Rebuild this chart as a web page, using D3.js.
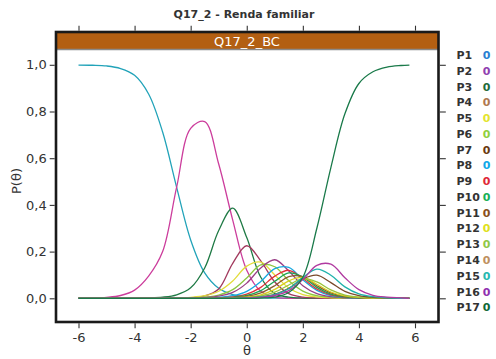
<!DOCTYPE html>
<html><head><meta charset="utf-8">
<script src="https://cdn.jsdelivr.net/npm/d3@7"></script>
<style>body{margin:0;background:#fff}svg{display:block}</style>
</head><body>
<script>
const theta = [-6,-5.5,-5,-4.5,-4,-3.5,-3,-2.5,-2,-1.5,-1,-0.5,0,0.5,1,1.5,2,2.5,3,3.5,4,4.5,5,5.5,5.8];
const P1  = [0.999,0.998,0.995,0.984,0.955,0.875,0.712,0.475,0.250,0.109,0.043,0.016,0.006,0.002,0.001,0,0,0,0,0,0,0,0,0,0];
const P2  = [0,0.001,0.004,0.012,0.035,0.095,0.200,0.476,0.728,0.757,0.575,0.335,0.120,0.030,0.005,0,0,0,0,0,0,0,0,0,0];
const P3  = [0,0,0,0,0.001,0.002,0.005,0.015,0.045,0.130,0.290,0.386,0.260,0.090,0.020,0.005,0.001,0,0,0,0,0,0,0,0];
const P4  = [0,0,0,0,0,0,0,0,0.002,0.010,0.040,0.150,0.225,0.160,0.070,0.020,0.005,0.001,0,0,0,0,0,0,0];
const P5  = [0,0,0,0,0,0,0,0.001,0.004,0.011,0.030,0.074,0.138,0.155,0.100,0.044,0.016,0.006,0.002,0,0,0,0,0,0];
const P6  = [0,0,0,0,0,0,0,0,0.001,0.005,0.014,0.037,0.087,0.143,0.135,0.075,0.031,0.011,0.004,0.001,0,0,0,0,0];
const P7  = [0,0,0,0,0,0,0,0,0,0.003,0.009,0.025,0.065,0.130,0.165,0.117,0.054,0.020,0.007,0.002,0,0,0,0,0];
const P8  = [0,0,0,0,0,0,0,0,0,0,0.004,0.011,0.030,0.072,0.127,0.132,0.079,0.034,0.012,0.004,0.001,0,0,0,0];
const P9  = [0,0,0,0,0,0,0,0,0,0,0.002,0.006,0.018,0.047,0.095,0.120,0.085,0.040,0.015,0.005,0.002,0,0,0,0];
const P10 = [0,0,0,0,0,0,0,0,0,0,0,0.004,0.012,0.033,0.073,0.109,0.091,0.047,0.018,0.006,0.002,0,0,0,0];
const P11 = [0,0,0,0,0,0,0,0,0,0,0,0.003,0.008,0.023,0.054,0.093,0.093,0.054,0.023,0.008,0.003,0,0,0,0];
const P12 = [0,0,0,0,0,0,0,0,0,0,0,0.002,0.005,0.015,0.038,0.075,0.089,0.060,0.027,0.010,0.004,0.001,0,0,0];
const P13 = [0,0,0,0,0,0,0,0,0,0,0,0,0.003,0.010,0.026,0.057,0.084,0.070,0.036,0.014,0.005,0.002,0,0,0];
const P14 = [0,0,0,0,0,0,0,0,0,0,0,0,0.002,0.006,0.017,0.043,0.083,0.099,0.067,0.030,0.011,0.004,0.001,0,0];
const P15 = [0,0,0,0,0,0,0,0,0,0,0,0,0.002,0.006,0.016,0.041,0.089,0.125,0.099,0.049,0.019,0.007,0.002,0,0];
const P16 = [0,0,0,0,0,0,0,0,0,0,0,0,0.001,0.004,0.012,0.033,0.080,0.141,0.146,0.088,0.037,0.013,0.005,0.002,0];
const P17 = [0,0,0,0,0,0,0,0,0,0,0,0,0,0.001,0.005,0.025,0.090,0.300,0.560,0.790,0.920,0.970,0.990,0.997,0.999];
const seriesNames = ["P1","P2","P3","P4","P5","P6","P7","P8","P9","P10","P11","P12","P13","P14","P15","P16","P17"];
const seriesValues = [P1,P2,P3,P4,P5,P6,P7,P8,P9,P10,P11,P12,P13,P14,P15,P16,P17];
const curveColors = ["#22a3b9","#cc3d9c","#1f7a45","#a23a5e","#e2dc3a","#8cc63f","#9a3f86","#17a9e0","#e0303a","#19a553","#8b5a2b","#d8d020","#9ac43c","#7a4a2a","#20b2aa","#b03aa0","#1a7a4a"];
const legendColors = ["#2a7fd2","#9040b0","#1f6b3c","#b07850","#e4e430","#90d040","#6b3a10","#10a8e8","#e02838","#18b058","#8a5020","#e0e020","#90c848","#c09060","#28b8b0","#9030b0","#106838"];
const xTicks = [-6,-4,-2,0,2,4,6];
const yTicks = [0,0.2,0.4,0.6,0.8,1.0];
const title = "Q17_2 - Renda familiar";
const stripLabel = "Q17_2_BC";

const W = 496, H = 359;
const svg = d3.select("body").append("svg").attr("width", W).attr("height", H);
const x = d3.scaleLinear().domain([-6, 6]).range([78.5, 415]);
const y = d3.scaleLinear().domain([0, 1]).range([298.3, 64.8]);
const panel = {l: 56, r: 438.5, t: 32, b: 322};
const font = "DejaVu Sans, Verdana, sans-serif";
const txt = "#333";

svg.append("text").attr("x", 244).attr("y", 18).attr("text-anchor", "middle")
  .attr("font-family", font).attr("font-size", 11).attr("font-weight", "bold").attr("fill", txt).text(title);

svg.append("rect").attr("x", panel.l).attr("y", panel.t).attr("width", panel.r - panel.l).attr("height", panel.b - panel.t).attr("fill", "#fff");

svg.append("clipPath").attr("id", "clip").append("rect")
  .attr("x", panel.l).attr("y", 50).attr("width", panel.r - panel.l).attr("height", panel.b - 50);
const line = d3.line().x((d, i) => x(theta[i])).y(d => y(d)).curve(d3.curveCatmullRom.alpha(0.5));
const gCurves = svg.append("g").attr("clip-path", "url(#clip)");
seriesValues.forEach((vals, k) => {
  gCurves.append("path").attr("d", line(vals)).attr("fill", "none")
    .attr("stroke", curveColors[k]).attr("stroke-width", 1.3).attr("stroke-linejoin", "round");
});

svg.append("rect").attr("x", panel.l).attr("y", panel.t).attr("width", panel.r - panel.l).attr("height", 17).attr("fill", "#b35f12");
svg.append("line").attr("x1", panel.l).attr("x2", panel.r).attr("y1", 49.5).attr("y2", 49.5).attr("stroke", "#8a8a8a").attr("stroke-width", 1.5);
svg.append("text").attr("x", 247).attr("y", 45.5).attr("text-anchor", "middle")
  .attr("font-family", font).attr("font-size", 13).attr("fill", "#fff").text(stripLabel);

svg.append("rect").attr("x", panel.l).attr("y", panel.t).attr("width", panel.r - panel.l).attr("height", panel.b - panel.t)
  .attr("fill", "none").attr("stroke", "#1a1a1a").attr("stroke-width", 2.6);

const axBottom = svg.append("g").attr("transform", `translate(0,${panel.b + 1.3})`)
  .call(d3.axisBottom(x).tickValues(xTicks).tickSize(5).tickPadding(4).tickFormat(d3.format("d")));
const axTop = svg.append("g").attr("transform", `translate(0,${panel.t - 1.3})`)
  .call(d3.axisTop(x).tickValues(xTicks).tickSize(5).tickFormat(""));
const fmtY = d => d3.format(".1f")(d).replace(".", ",");
const axLeft = svg.append("g").attr("transform", `translate(${panel.l - 1.3},0)`)
  .call(d3.axisLeft(y).tickValues(yTicks).tickSize(5).tickPadding(3).tickFormat(fmtY));
const axRight = svg.append("g").attr("transform", `translate(${panel.r + 1.3},0)`)
  .call(d3.axisRight(y).tickValues(yTicks).tickSize(6).tickFormat(""));
[axBottom, axTop, axLeft, axRight].forEach(a => {
  a.select(".domain").remove();
  a.selectAll(".tick line").attr("stroke", txt).attr("stroke-width", 1.1);
  a.selectAll(".tick text").attr("font-family", font).attr("font-size", 13).attr("fill", txt);
});
axBottom.selectAll(".tick text").text(d => d < 0 ? "-" + Math.abs(d) : d);

svg.append("text").attr("x", 247).attr("y", 355).attr("text-anchor", "middle")
  .attr("font-family", font).attr("font-size", 13).attr("fill", txt).text("θ");
svg.append("text").attr("transform", "translate(21,181) rotate(-90)").attr("text-anchor", "middle")
  .attr("font-family", font).attr("font-size", 13).attr("fill", txt).text("P(θ)");

const lg = svg.append("g");
seriesNames.forEach((n, i) => {
  const cy = 55 + i * 15.77;
  lg.append("text").attr("x", 456.5).attr("y", cy + 4).attr("font-family", font).attr("font-size", 11)
    .attr("font-weight", "bold").attr("fill", txt).text(n);
  lg.append("text").attr("x", 490.5).attr("y", cy + 4).attr("text-anchor", "end").attr("font-family", font).attr("font-size", 11)
    .attr("font-weight", "bold").attr("fill", legendColors[i]).text("0");
});
</script>
</body></html>
